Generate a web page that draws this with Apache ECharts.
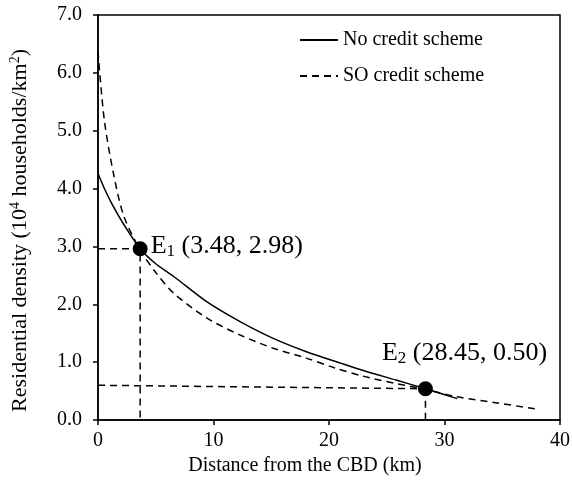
<!DOCTYPE html>
<html>
<head>
<meta charset="utf-8">
<script src="https://cdn.jsdelivr.net/npm/echarts@6/dist/echarts.min.js"></script>
<style>html,body{margin:0;padding:0;background:#fff}#c{width:573px;height:490px}</style>
</head>
<body>
<div id="c"></div>
<script>
// Data
const seriesNames = ['No credit scheme', 'SO credit scheme'];
const noCredit = [[0,4.26],[0.6,3.98],[1.3,3.70],[2.26,3.37],[3.65,2.96],[5,2.70],[6.56,2.48],[9.44,2.04],[12.3,1.70],[15.17,1.41],[18.04,1.18],[20.9,0.99],[22.9,0.86],[25.8,0.69],[28.35,0.54],[31.1,0.37]];
const soCredit = [[0,6.37],[0.55,5.18],[1.4,4.2],[2.26,3.51],[3.65,2.94],[5,2.55],[6.56,2.19],[9.44,1.76],[12.3,1.47],[15.17,1.24],[18.04,1.07],[20.5,0.90],[22.9,0.76],[25.8,0.63],[28.35,0.53],[31.1,0.40],[34.4,0.30],[38.25,0.18]];
const eqPoints = [[3.65,2.96],[28.35,0.54]];
const eqNames = ['1','2'];
const eqLabels = ['(3.48, 2.98)','(28.45, 0.50)'];
const guideE1 = [[0,2.96],[3.65,2.96],[3.65,0]];
const guideE2h = [[0,0.60],[28.35,0.54]];
const guideE2v = [[28.35,0.54],[28.35,0]];
const xTicks = {min:0, max:40, interval:10};
const yTicks = {min:0, max:7, interval:1};

const FONT = 'Liberation Serif';
const chart = echarts.init(document.getElementById('c'));
const guideStyle = {color:'#000', width:1.5, type:[7,5]};
function guide(data){
  return {type:'line', data:data, symbol:'none', silent:true, lineStyle:guideStyle, z:1};
}
chart.setOption({
  animation:false,
  textStyle:{fontFamily:FONT, color:'#000'},
  grid:{left:97, right:11, top:15, bottom:70, show:true, borderColor:'#000', borderWidth:1.5, backgroundColor:'transparent'},
  legend:{
    data:seriesNames, orient:'vertical', left:294, top:25, itemWidth:38, itemHeight:10, itemGap:16,
    itemStyle:{opacity:0},
    textStyle:{fontFamily:FONT, fontSize:20, color:'#000'}
  },
  xAxis:{
    type:'value', min:xTicks.min, max:xTicks.max, interval:xTicks.interval,
    name:'Distance from the CBD (km)', nameLocation:'middle', nameGap:34,
    nameTextStyle:{fontFamily:FONT, fontSize:20, color:'#000', padding:[0,48,0,0]},
    axisLine:{lineStyle:{color:'#000', width:1.5}},
    axisTick:{show:true, inside:false, length:5, lineStyle:{color:'#000', width:1.5}},
    axisLabel:{fontFamily:FONT, fontSize:20, color:'#000', margin:11},
    splitLine:{show:false}
  },
  yAxis:{
    type:'value', min:yTicks.min, max:yTicks.max, interval:yTicks.interval,
    name:'{n|Residential density (10}{s|4}{n| households/km}{s|2}{n|)}', nameLocation:'middle', nameGap:65, nameRotate:90,
    nameTextStyle:{padding:[0,26,0,0], rich:{
      n:{fontFamily:FONT, fontSize:22, color:'#000', lineHeight:25},
      s:{fontFamily:FONT, fontSize:14, color:'#000', lineHeight:14, verticalAlign:'top'}
    }},
    axisLine:{show:true, lineStyle:{color:'#000', width:1.5}},
    axisTick:{show:true, inside:false, length:5, lineStyle:{color:'#000', width:1.5}},
    axisLabel:{fontFamily:FONT, fontSize:20, color:'#000', margin:16, formatter:function(v){return v.toFixed(1);}},
    splitLine:{show:false}
  },
  series:[
    {name:seriesNames[0], type:'line', data:noCredit, symbol:'none', smooth:0.3, lineStyle:{color:'#000', width:1.5, type:'solid'}, itemStyle:{color:'#000'}, z:3},
    {name:seriesNames[1], type:'line', data:soCredit, symbol:'none', smooth:0.3, lineStyle:{color:'#000', width:1.5, type:[7,5]}, itemStyle:{color:'#000'}, z:3},
    guide(guideE1), guide(guideE2h), guide(guideE2v),
    {type:'scatter', data:eqPoints, symbol:'circle', symbolSize:15, itemStyle:{color:'#000', opacity:1}, z:5,
     label:{show:true, color:'#000', opacity:1,
       formatter:function(p){return '{e|E}{s|'+eqNames[p.dataIndex]+'}{e| '+eqLabels[p.dataIndex]+'}';},
       rich:{
         e:{fontFamily:FONT, fontSize:26, color:'#000', lineHeight:28},
         s:{fontFamily:FONT, fontSize:17, color:'#000', lineHeight:17, verticalAlign:'bottom'}
       }
     },
     labelLayout:function(p){
       if(p.dataIndex===0){ return {x:p.rect.x+p.rect.width+3, y:p.rect.y+p.rect.height/2-3, align:'left', verticalAlign:'middle'}; }
       return {x:p.rect.x-36, y:p.rect.y-28, align:'left', verticalAlign:'middle'};
     }
    }
  ]
});
</script>
</body>
</html>
